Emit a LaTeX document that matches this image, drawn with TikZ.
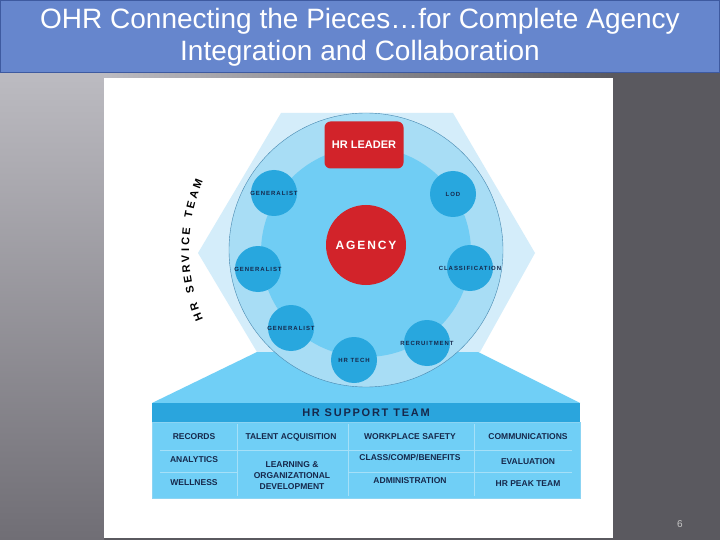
\documentclass[tikz,border=0pt]{standalone}
\usepackage{fontspec}
\setmainfont{Liberation Sans}
\newfontfamily\spacedfont[LetterSpace=16]{Liberation Sans}
\usetikzlibrary{positioning,decorations.text}

\definecolor{titleblue}{RGB}{102,134,205}
\definecolor{titleline}{RGB}{62,90,160}
\definecolor{bgdark}{RGB}{90,89,95}
\definecolor{bglight}{RGB}{188,187,193}
\definecolor{bglow}{RGB}{112,110,117}
\definecolor{hexblue}{RGB}{212,237,250}
\definecolor{ringblue}{RGB}{168,221,245}
\definecolor{coreblue}{RGB}{112,205,244}
\definecolor{ringline}{RGB}{70,135,175}
\definecolor{memberblue}{RGB}{40,167,222}
\definecolor{leadred}{RGB}{210,35,42}
\definecolor{baseblue}{RGB}{112,207,246}
\definecolor{bandblue}{RGB}{42,165,221}
\definecolor{gridline}{RGB}{165,224,248}
\definecolor{navy}{RGB}{22,40,75}

\begin{document}
\begin{tikzpicture}[x=1pt,y=-1pt,
  member/.style={circle,fill=memberblue,minimum size=46pt,inner sep=0pt},
  tag/.style={font=\spacedfont\bfseries\fontsize{6}{7}\selectfont,text=navy,inner sep=0pt},
  cell/.style={font=\bfseries\fontsize{8.5}{11}\selectfont,text=navy,align=center,inner sep=0pt}]
\useasboundingbox (0,0) rectangle (720,540);
% backdrop
\fill[bgdark] (0,0) rectangle (720,540);
\shade[top color=bglight,bottom color=bglow] (0,72) rectangle (104,540);
\shade[left color=bglight,right color=bgdark] (104,72) rectangle (613,78);
\fill[white] (104,78) rectangle (613,538);
% title bar
\fill[titleblue,draw=titleline] (0.5,0.5) rectangle (719.5,72);
\node[font=\fontsize{28}{32}\selectfont,text=white,align=center] (title) at (360,37)
  {OHR Connecting the Pieces…for Complete Agency\\Integration and Collaboration};
% hexagon behind the team circle
\fill[hexblue] (281,113) -- (453,113) -- (535,253) -- (480,352) -- (257,352) -- (198,253) -- cycle;
% support platform
\fill[baseblue] (257,352) -- (478,352) -- (580,403) -- (152,403) -- cycle;
\fill[bandblue] (152,403) rectangle (580,422);
\fill[baseblue,draw=gridline!80!bandblue] (152,422) rectangle (580,498);
% service circle
\fill[ringblue,draw=ringline,thin] (366,250) circle (137);
\fill[coreblue] (366,252) circle (105);
\foreach \nm/\px/\py/\lbl in {genA/274/193/GENERALIST, lod/453/194/LOD,
    genB/258/269/GENERALIST, class/470/268/CLASSIFICATION,
    genC/291/328/GENERALIST, tech/354/360/HR TECH, recr/427/343/RECRUITMENT} {
  \node[member] (\nm) at (\px,\py) {};
  \node[tag] (\nm-lbl) at (\nm) {\lbl};
}
\node[fill=leadred,rounded corners=6pt,minimum width=79pt,minimum height=47pt,
  text=white,font=\bfseries\fontsize{11}{13}\selectfont] (leader) at (364,145) {HR LEADER};
\node[circle,fill=leadred,minimum size=80pt,text=white,
  font=\spacedfont\bfseries\fontsize{12}{14}\selectfont] (agency) at (366,245) {AGENCY};
% curved team label
\path[decorate,decoration={text along path,text align={fit to path},
  text={|\bfseries\fontsize{11}{13}\selectfont|HR SERVICE TEAM}}]
  (366,250) ++(157:177) arc[start angle=157,end angle=203,radius=177];
% support team table
\node[font=\spacedfont\bfseries\fontsize{11}{13}\selectfont,text=navy] (support) at (366,412.5) {HR SUPPORT TEAM};
\draw[gridline,thin] (237,424) -- (237,496) (348,424) -- (348,496) (474,424) -- (474,496);
\draw[gridline,thin] (160,450) -- (572,450) (160,472) -- (237,472) (348,472) -- (572,472);
\node[cell] (records) at (194,437) {RECORDS};
\node[cell] (talent) at (291,437) {TALENT ACQUISITION};
\node[cell] (safety) at (410,437) {WORKPLACE SAFETY};
\node[cell] (comms) at (528,437) {COMMUNICATIONS};
\node[cell] (analytics) at (194,460) {ANALYTICS};
\node[cell] (learning) at (292,476) {LEARNING \&\\ORGANIZATIONAL\\DEVELOPMENT};
\node[cell] (benefits) at (410,458) {CLASS/COMP/BENEFITS};
\node[cell] (evaluation) at (528,462) {EVALUATION};
\node[cell] (wellness) at (194,483) {WELLNESS};
\node[cell] (admin) at (410,481) {ADMINISTRATION};
\node[cell] (peak) at (528,484) {HR PEAK TEAM};
% slide number
\node[text=gray!45,font=\fontsize{10}{12}\selectfont] (pageno) at (680,524) {6};
\end{tikzpicture}
\end{document}
